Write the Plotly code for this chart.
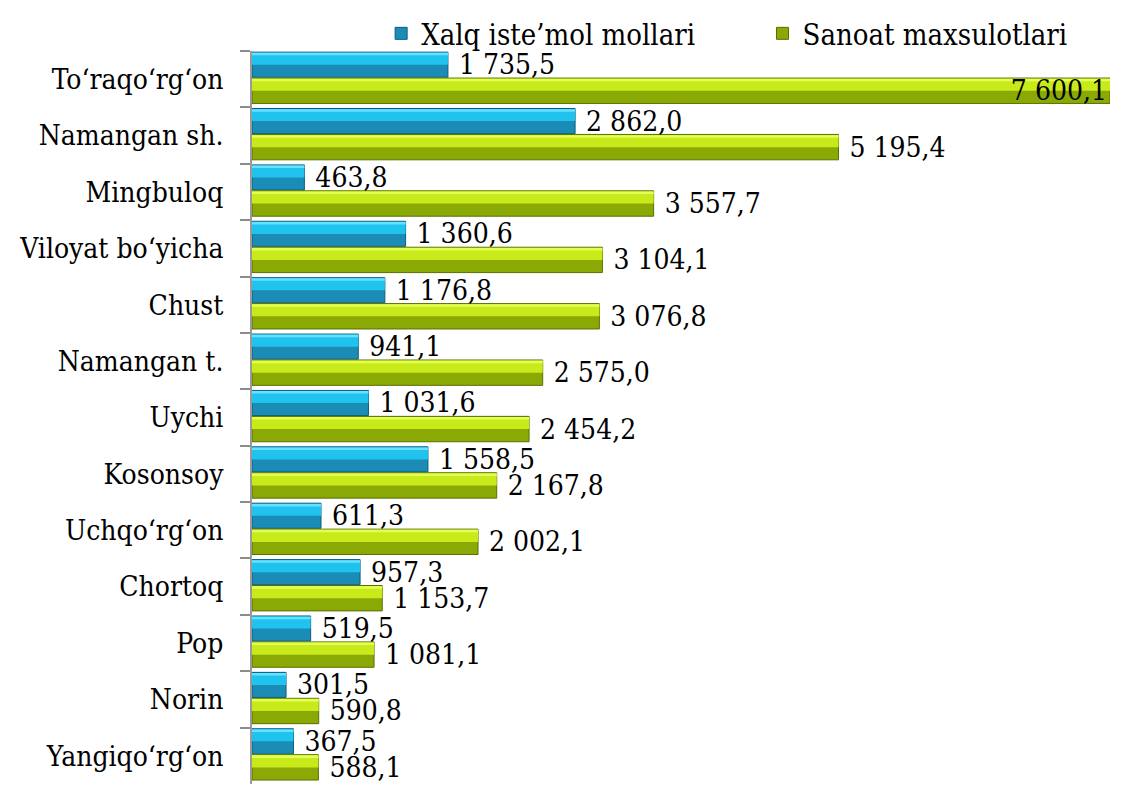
import plotly.graph_objects as go

categories = ["To‘raqo‘rg‘on", "Namangan sh.", "Mingbuloq", "Viloyat bo‘yicha", "Chust",
              "Namangan t.", "Uychi", "Kosonsoy", "Uchqo‘rg‘on", "Chortoq", "Pop", "Norin",
              "Yangiqo‘rg‘on"]
xalq = [1735.5, 2862.0, 463.8, 1360.6, 1176.8, 941.1, 1031.6, 1558.5, 611.3, 957.3, 519.5, 301.5, 367.5]
sanoat = [7600.1, 5195.4, 3557.7, 3104.1, 3076.8, 2575.0, 2454.2, 2167.8, 2002.1, 1153.7, 1081.1, 590.8, 588.1]
series_names = ["Xalq iste’mol mollari", "Sanoat maxsulotlari"]

FONT = "DejaVu Serif Condensed"

fig = go.Figure()

def add_series(vals, name, legend_id, offset, width, c_dark, c_mid, c_light, c_edge):
    fig.add_trace(go.Bar(y=categories, x=vals, orientation="h", name=name, legend=legend_id,
                         offset=offset, width=width,
                         marker=dict(color=c_dark, line=dict(color=c_edge, width=1)),
                         showlegend=True, hoverinfo="skip"))
    fig.add_trace(go.Bar(y=categories, x=vals, orientation="h",
                         offset=offset + 0.01, width=width * 0.48,
                         marker=dict(color=c_mid, line=dict(width=0)),
                         showlegend=False, hoverinfo="skip"))
    fig.add_trace(go.Bar(y=categories, x=vals, orientation="h",
                         offset=offset + 0.012, width=width * 0.1,
                         marker=dict(color=c_light, line=dict(width=0)),
                         showlegend=False, hoverinfo="skip"))

blue_off, blue_w = -0.48, 0.445
green_off, green_w = -0.02, 0.45

add_series(xalq, series_names[0], "legend", blue_off, blue_w, "#1a8cb6", "#1fc3ee", "#66e2ff", "#0c5d7e")
add_series(sanoat, series_names[1], "legend2", green_off, green_w, "#8aa905", "#c9ea1a", "#e2ff55", "#5a7000")

green_pos = ["inside" if v == max(sanoat) else "outside" for v in sanoat]
for vals, off, w, pos in [(xalq, blue_off, blue_w, "outside"), (sanoat, green_off, green_w, green_pos)]:
    fig.add_trace(go.Bar(y=categories, x=vals, orientation="h", offset=off, width=w,
                         marker=dict(color="rgba(0,0,0,0)", line=dict(width=0)),
                         texttemplate="\u00a0%{x:,.1f}", textposition=pos,
                         insidetextanchor="end", constraintext="none", cliponaxis=False,
                         textfont=dict(family=FONT, size=28, color="black"),
                         insidetextfont=dict(family=FONT, size=28, color="black"),
                         outsidetextfont=dict(family=FONT, size=28, color="black"),
                         showlegend=False, hoverinfo="skip"))

legend_common = dict(orientation="h", xanchor="left", yref="container", y=1.0, yanchor="top",
                     font=dict(family=FONT, size=29, color="black"), bgcolor="rgba(0,0,0,0)")

# page body has an 8px margin: the figure is sized/offset to fill the window
fig.update_layout(
    width=1127, height=777,
    margin=dict(l=244, r=25, t=43, b=1, autoexpand=False),
    paper_bgcolor="white", plot_bgcolor="white",
    barmode="overlay",
    separators=", ",
    font=dict(family=FONT, size=28, color="black"),
    legend=dict(x=0.1505, **legend_common),
    legend2=dict(x=0.595, **legend_common),
    xaxis=dict(visible=False, range=[0, max(sanoat)], fixedrange=True),
    yaxis=dict(type="category", categoryorder="array", categoryarray=categories,
               range=[12.5, -0.5], tickson="boundaries", ticks="outside", ticklen=10,
               tickwidth=2, tickcolor="#8c8c8c", showline=True, linecolor="#9a9a9a",
               linewidth=2, showgrid=False, ticklabelstandoff=21, automargin=False,
               tickfont=dict(family=FONT, size=28, color="black")),
)

fig.write_html("out.html")
